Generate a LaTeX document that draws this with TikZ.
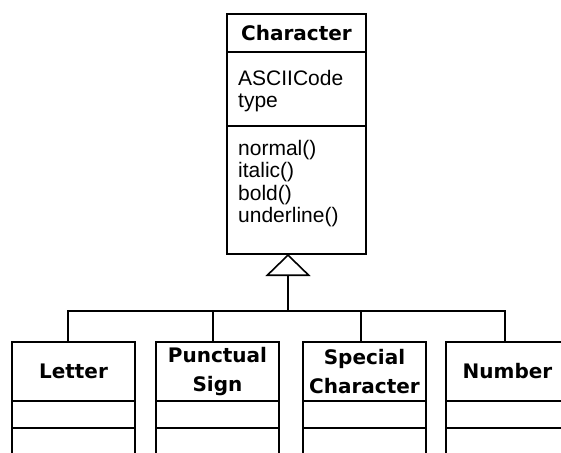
\documentclass[tikz,border=0pt]{standalone}
\usepackage{fontspec}
\setmainfont{Liberation Sans}
\newfontfamily\dejavu{DejaVu Sans}
\usetikzlibrary{positioning,arrows.meta}

\tikzset{
  umlbox/.style={draw, line width=1.6pt, inner sep=0pt, outer sep=0pt},
  bigbox/.style={umlbox, minimum width=139pt},
  subbox/.style={umlbox, minimum width=123pt},
  classname/.style={font=\dejavu\bfseries\fontsize{20}{29}\selectfont, align=center},
  members/.style={font=\fontsize{21}{22.5}\selectfont, align=left, text width=120pt, anchor=base west, inner sep=0pt},
  inherit/.style={line width=1.6pt},
}

\begin{document}
\begin{tikzpicture}[x=1pt,y=-1pt]
\useasboundingbox (0,0) rectangle (561,452);
\clip (0,0) rectangle (561,452);

% superclass
\node[bigbox, classname, minimum height=38pt, anchor=north west] (chhead) at (227,14) {Character};
\node[bigbox, minimum height=74pt, below=0pt of chhead] (chattr) {};
\node[bigbox, minimum height=128pt, below=0pt of chattr] (chmeth) {};
% attributes and operations
\node[members] (attrs) at ([xshift=11pt,yshift=-33pt]chattr.north west) {ASCIICode\\type};
\node[members] (meths) at ([xshift=11pt,yshift=-29pt]chmeth.north west) {normal()\\italic()\\bold()\\underline()};

% subclasses
\foreach \name/\x/\txt in {letter/12/Letter, punct/156/{Punctual\\Sign}, spec/303/{Special\\Character}, number/446/Number} {
  \node[subbox, classname, minimum height=59pt, anchor=north west] (\name) at (\x,342) {\txt};
  \node[subbox, minimum height=27pt, below=0pt of \name] (\name-attr) {};
  \node[subbox, minimum height=60pt, below=0pt of \name-attr] (\name-meth) {};
}

% generalization
\coordinate (apex) at ([xshift=-8.5pt]chmeth.south);
\coordinate (bus) at (apex |- 0,311);
\coordinate (letter-in) at ([xshift=-5.5pt]letter.north);
\coordinate (punct-in) at ([xshift=-4.5pt]punct.north);
\coordinate (spec-in) at ([xshift=-3.5pt]spec.north);
\coordinate (number-in) at ([xshift=-2.5pt]number.north);
\draw[inherit, -{Triangle[open, length=22pt, width=45pt]}] (bus) -- (apex);
\draw[inherit] (letter-in) |- (bus) -| (number-in);
\draw[inherit] (punct-in) -- (punct-in |- bus);
\draw[inherit] (spec-in) -- (spec-in |- bus);

\end{tikzpicture}
\end{document}
